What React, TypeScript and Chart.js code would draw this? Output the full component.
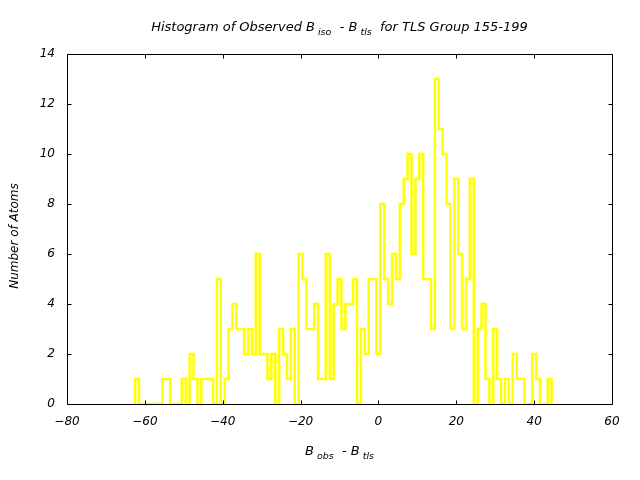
import React, { useEffect, useRef } from "react";
import { Chart, registerables } from "chart.js";

Chart.register(...registerables);

// Bin centres (width 1) of B_obs - B_tls
const binCenters = [
  -62, -61, -60, -59, -58, -57, -56, -55, -54, -53, -52, -51, -50, -49, -48, -47, -46, -45, -44, -43,
  -42, -41, -40, -39, -38, -37, -36, -35, -34, -33, -32, -31, -30, -29, -28, -27, -26, -25, -24, -23,
  -22, -21, -20, -19, -18, -17, -16, -15, -14, -13, -12, -11, -10, -9, -8, -7, -6, -5, -4, -3,
  -2, -1, 0, 1, 2, 3, 4, 5, 6, 7, 8, 9, 10, 11, 12, 13, 14, 15, 16, 17,
  18, 19, 20, 21, 22, 23, 24, 25, 26, 27, 28, 29, 30, 31, 32, 33, 34, 35, 36, 37,
  38, 39, 40, 41, 42, 43, 44,
];

// Number of atoms in each bin
const atomCounts = [
  1, 0, 0, 0, 0, 0, 0, 1, 1, 0, 0, 0, 1, 0, 2, 1, 0, 1, 1, 1,
  0, 5, 0, 1, 3, 4, 3, 3, 2, 3, 2, 6, 2, 2, 1, 2, 0, 3, 2, 1,
  3, 0, 6, 5, 3, 3, 4, 1, 1, 6, 1, 4, 5, 3, 4, 4, 5, 0, 3, 2,
  5, 5, 2, 8, 5, 4, 6, 5, 8, 9, 10, 6, 9, 10, 5, 5, 3, 13, 11, 10,
  8, 3, 9, 6, 3, 5, 9, 0, 3, 4, 1, 0, 3, 1, 0, 1, 0, 2, 1, 1,
  0, 0, 2, 1, 0, 0, 1,
];

const binWidth = 1;
const xTickValues = [-80, -60, -40, -20, 0, 20, 40, 60];
const yTickValues = [0, 2, 4, 6, 8, 10, 12, 14];

type Seg = { t: string; sub?: boolean };
const titleText: Seg[] = [
  { t: "Histogram of Observed B" },
  { t: " iso", sub: true },
  { t: "  - B" },
  { t: " tls", sub: true },
  { t: "  for TLS Group 155-199" },
];
const xTitleText: Seg[] = [
  { t: "B" },
  { t: " obs", sub: true },
  { t: "  - B" },
  { t: " tls", sub: true },
];
const yTitleText = "Number of Atoms";

const FONT_FAMILY = "'DejaVu Sans', sans-serif";
const TITLE_SIZE = 13;
const TICK_SIZE = 12;
const SUB_SIZE = 9.5;

function drawRich(ctx: CanvasRenderingContext2D, segs: Seg[], cx: number, baseline: number) {
  const fMain = `italic ${TITLE_SIZE}px ${FONT_FAMILY}`;
  const fSub = `italic ${SUB_SIZE}px ${FONT_FAMILY}`;
  let total = 0;
  const widths = segs.map((s) => {
    ctx.font = s.sub ? fSub : fMain;
    const w = ctx.measureText(s.t).width;
    total += w;
    return w;
  });
  let x = cx - total / 2;
  ctx.textAlign = "left";
  ctx.textBaseline = "alphabetic";
  segs.forEach((s, i) => {
    ctx.font = s.sub ? fSub : fMain;
    ctx.fillText(s.t, x, baseline + (s.sub ? 4 : 0));
    x += widths[i];
  });
}

const fmtTick = (v: number) => (v < 0 ? "\u2212" + String(-v) : String(v));

const decorPlugin = {
  id: "decor",
  afterDraw(chart: any) {
    const { ctx, chartArea: a, scales } = chart;
    const xs = scales.x;
    const ys = scales.y;
    ctx.save();
    ctx.strokeStyle = "#000000";
    ctx.lineWidth = 1;
    const L = Math.round(a.left) + 0.5;
    const R = Math.round(a.right) + 0.5;
    const T = Math.round(a.top) + 0.5;
    const B = Math.round(a.bottom) + 0.5;
    ctx.beginPath();
    ctx.rect(L, T, R - L, B - T);
    ctx.stroke();
    const tl = 4;
    ctx.beginPath();
    xTickValues.forEach((v) => {
      const px = Math.round(xs.getPixelForValue(v)) + 0.5;
      ctx.moveTo(px, B);
      ctx.lineTo(px, B - tl);
      ctx.moveTo(px, T);
      ctx.lineTo(px, T + tl);
    });
    yTickValues.forEach((v) => {
      const py = Math.round(ys.getPixelForValue(v)) + 0.5;
      ctx.moveTo(L, py);
      ctx.lineTo(L + tl, py);
      ctx.moveTo(R, py);
      ctx.lineTo(R - tl, py);
    });
    ctx.stroke();

    ctx.fillStyle = "#000000";
    const midX = (a.left + a.right) / 2;
    drawRich(ctx, titleText, midX, 31);
    drawRich(ctx, xTitleText, midX, 455);

    ctx.save();
    ctx.translate(14.5, (a.top + a.bottom) / 2 + 7);
    ctx.rotate(-Math.PI / 2);
    ctx.font = `italic ${TICK_SIZE}px ${FONT_FAMILY}`;
    ctx.textAlign = "center";
    ctx.textBaseline = "middle";
    ctx.fillText(yTitleText, 0, 0);
    ctx.restore();
    ctx.restore();
  },
};

export default function App() {
  const canvasRef = useRef<HTMLCanvasElement | null>(null);

  useEffect(() => {
    document.body.style.margin = "0";
    const canvas = canvasRef.current;
    if (!canvas) return;

    // Step outline built from bins: left edge up, across, down to next bin
    const outline: { x: number; y: number }[] = [];
    binCenters.forEach((c, i) => {
      const left = c - binWidth / 2;
      const right = c + binWidth / 2;
      if (i === 0) outline.push({ x: left, y: 0 });
      outline.push({ x: left, y: atomCounts[i] });
      outline.push({ x: right, y: atomCounts[i] });
      if (i === binCenters.length - 1) outline.push({ x: right, y: 0 });
    });

    const tickFont = { family: FONT_FAMILY, size: TICK_SIZE, style: "italic" as const };

    const chart = new Chart(canvas, {
      type: "line",
      data: {
        datasets: [
          {
            data: outline,
            borderColor: "#ffff00",
            borderWidth: 2.5,
            pointRadius: 0,
            fill: false,
            tension: 0,
            borderJoinStyle: "miter",
            borderCapStyle: "butt",
            clip: false as any,
          },
        ],
      },
      options: {
        animation: false,
        responsive: false,
        parsing: false as any,
        normalized: true,
        layout: { padding: { top: 54, right: 28, left: 0, bottom: 0 } },
        plugins: {
          legend: { display: false },
          title: { display: false },
          tooltip: { enabled: false },
        },
        scales: {
          x: {
            type: "linear",
            min: -80,
            max: 60,
            afterFit: (s: any) => {
              s.height = 76;
            },
            afterBuildTicks: (s: any) => {
              s.ticks = xTickValues.map((v) => ({ value: v }));
            },
            grid: { display: false, drawTicks: false, drawOnChartArea: false },
            border: { display: false },
            ticks: {
              color: "#000000",
              font: tickFont,
              padding: 11,
              maxRotation: 0,
              autoSkip: false,
              callback: (v: any) => fmtTick(Number(v)),
            },
          },
          y: {
            type: "linear",
            min: 0,
            max: 14,
            afterFit: (s: any) => {
              s.width = 67;
            },
            afterBuildTicks: (s: any) => {
              s.ticks = yTickValues.map((v) => ({ value: v }));
            },
            grid: { display: false, drawTicks: false, drawOnChartArea: false },
            border: { display: false },
            ticks: {
              color: "#000000",
              font: tickFont,
              padding: 12,
              autoSkip: false,
              callback: (v: any) => fmtTick(Number(v)),
            },
          },
        },
      },
      plugins: [decorPlugin],
    });

    return () => {
      chart.destroy();
    };
  }, []);

  return (
    <div style={{ position: "absolute", left: 0, top: 0, width: 640, height: 480, background: "#ffffff" }}>
      <canvas ref={canvasRef} width={640} height={480} />
    </div>
  );
}
